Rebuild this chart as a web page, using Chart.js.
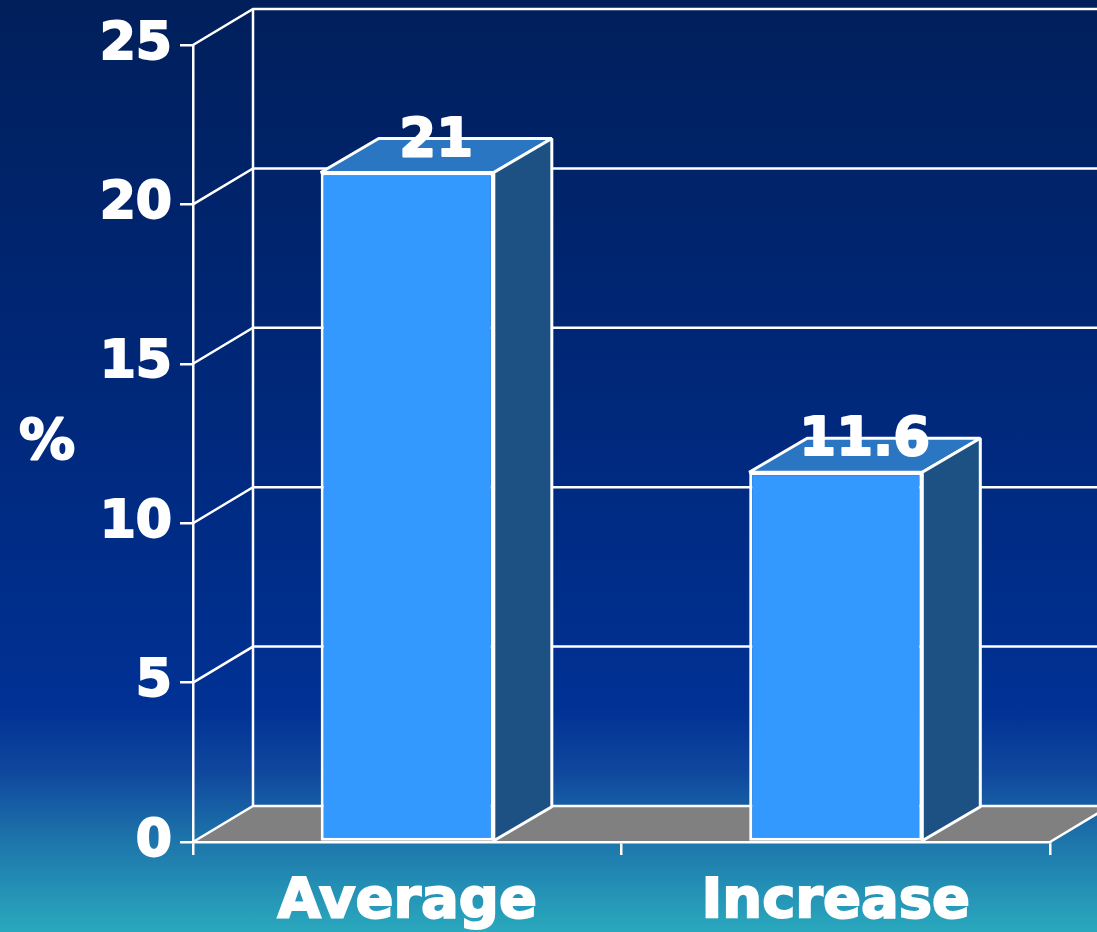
<!DOCTYPE html>
<html>
<head>
  <title>Average vs Increase</title>
  <script src="https://cdn.jsdelivr.net/npm/chart.js"></script>
  <style>
    html, body {
      margin: 0;
      padding: 0;
      overflow: hidden;
    }
    body {
      width: 1097px;
      height: 932px;
      background: linear-gradient(to bottom, #001f5b 0%, #002a80 50%, #003194 76%, #10489e 83%, #1d74aa 90%, #2aa9be 100%);
    }
  </style>
</head>
<body>
  <canvas id="graphique" width="1097" height="932"></canvas>

  <script>
    // Données du graphique
    const categories = ["Average", "Increase"];
    const values = [21, 11.6];
    const yTicks = [0, 5, 10, 15, 20, 25];
    const yTitle = "%";

    const FONT = "'DejaVu Sans', sans-serif";

    // texte blanc épaissi
    function texteGras(ctx, txt, x, y) {
      ctx.lineWidth = 2;
      ctx.strokeStyle = "#ffffff";
      ctx.lineJoin = "round";
      ctx.strokeText(txt, x, y);
      ctx.fillText(txt, x, y);
    }

    // Effet 3D : mur du fond, sol gris, faces des barres
    const troisD = {
      id: "troisD",
      beforeDraw(chart) {
        const ctx = chart.ctx;
        const area = chart.chartArea;
        const y = chart.scales.y;
        const DX = 60, DY = -36;
        ctx.save();
        // sol
        ctx.fillStyle = "#808080";
        ctx.beginPath();
        ctx.moveTo(area.left, area.bottom);
        ctx.lineTo(area.right, area.bottom);
        ctx.lineTo(area.right + DX, area.bottom + DY);
        ctx.lineTo(area.left + DX, area.bottom + DY);
        ctx.closePath();
        ctx.fill();

        ctx.strokeStyle = "#ffffff";
        ctx.lineWidth = 2.5;
        // lignes du mur
        yTicks.forEach(v => {
          const py = y.getPixelForValue(v);
          ctx.beginPath();
          ctx.moveTo(area.left, py);
          ctx.lineTo(area.left + DX, py + DY);
          ctx.lineTo(chart.width, py + DY);
          ctx.stroke();
        });
        ctx.beginPath();
        ctx.moveTo(area.left + DX, area.top + DY);
        ctx.lineTo(area.left + DX, area.bottom + DY);
        ctx.moveTo(area.right, area.bottom);
        ctx.lineTo(area.right + DX, area.bottom + DY);
        ctx.stroke();
        ctx.restore();
      },
      afterDatasetsDraw(chart) {
        const ctx = chart.ctx;
        const BX = 58, BY = -34;
        const meta = chart.getDatasetMeta(0);
        ctx.save();
        meta.data.forEach((bar, i) => {
          const p = bar.getProps(["x", "y", "base", "width"], true);
          const l = p.x - p.width / 2;
          const r = p.x + p.width / 2;
          ctx.strokeStyle = "#ffffff";
          ctx.lineWidth = 3;
          ctx.lineJoin = "bevel";
          // face du dessus
          ctx.fillStyle = "#2b76c2";
          ctx.beginPath();
          ctx.moveTo(l, p.y);
          ctx.lineTo(r, p.y);
          ctx.lineTo(r + BX, p.y + BY);
          ctx.lineTo(l + BX, p.y + BY);
          ctx.closePath();
          ctx.fill();
          ctx.stroke();
          // face de côté
          ctx.fillStyle = "#1d5183";
          ctx.beginPath();
          ctx.moveTo(r, p.y);
          ctx.lineTo(r + BX, p.y + BY);
          ctx.lineTo(r + BX, p.base + BY);
          ctx.lineTo(r, p.base);
          ctx.closePath();
          ctx.fill();
          ctx.stroke();
          // valeur
          ctx.fillStyle = "#ffffff";
          ctx.font = "bold 53px " + FONT;
          ctx.textAlign = "center";
          ctx.textBaseline = "alphabetic";
          texteGras(ctx, String(values[i]), p.x + BX / 2, p.y + BY / 2);
        });
        ctx.restore();
      },
      afterDraw(chart) {
        const ctx = chart.ctx;
        ctx.save();
        ctx.fillStyle = "#ffffff";
        ctx.font = "bold 56px " + FONT;
        ctx.textAlign = "center";
        ctx.textBaseline = "middle";
        texteGras(ctx, yTitle, 47, 443);
        ctx.restore();
      }
    };

    const graphique = document.getElementById("graphique").getContext("2d");
    new Chart(graphique, {
      type: "bar",
      data: {
        labels: categories,
        datasets: [{
          data: values,
          backgroundColor: "#3399ff",
          borderColor: "#ffffff",
          borderWidth: 3,
          borderSkipped: false,
          categoryPercentage: 1,
          barPercentage: 0.404
        }]
      },
      plugins: [troisD],
      options: {
        responsive: false,
        animation: false,
        events: [],
        layout: {
          padding: { top: 45, right: 47, left: 0, bottom: 0 }
        },
        plugins: {
          legend: { display: false },
          tooltip: { enabled: false }
        },
        scales: {
          y: {
            min: yTicks[0],
            max: yTicks[yTicks.length - 1],
            afterFit(s) { s.width = 193; },
            ticks: {
              stepSize: yTicks[1] - yTicks[0],
              color: "#ffffff",
              textStrokeColor: "#ffffff",
              textStrokeWidth: 2,
              padding: 8,
              font: { family: FONT, weight: "bold", size: 52 }
            },
            grid: {
              drawOnChartArea: false,
              color: "#ffffff",
              lineWidth: 2.5,
              tickLength: 13
            },
            border: { color: "#ffffff", width: 2.5 }
          },
          x: {
            afterFit(s) { s.height = 90; },
            ticks: {
              color: "#ffffff",
              textStrokeColor: "#ffffff",
              textStrokeWidth: 2,
              padding: 14,
              font: { family: FONT, weight: "bold", size: 56 }
            },
            grid: {
              drawOnChartArea: false,
              offset: true,
              color: "#ffffff",
              lineWidth: 2.5,
              tickLength: 13
            },
            border: { color: "#ffffff", width: 2.5 }
          }
        }
      }
    });
  </script>
</body>
</html>
